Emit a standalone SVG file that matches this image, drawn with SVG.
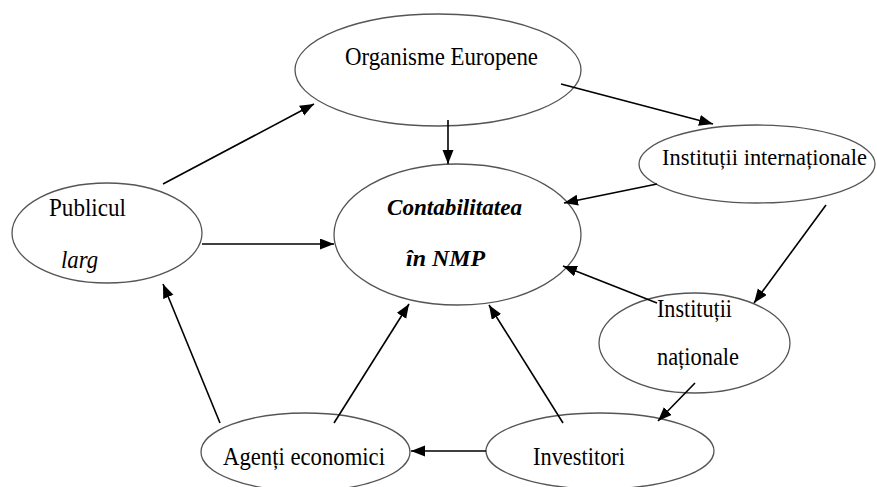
<svg xmlns="http://www.w3.org/2000/svg" width="877" height="487" viewBox="0 0 877 487">
<style>
.n{fill:#fff;stroke:#555;stroke-width:1.3}
.t{font-family:"Liberation Serif","Times New Roman",serif;font-size:25px;fill:#000}
.i{font-style:italic}
.b{font-weight:bold;font-style:italic;font-size:24px}
.c line{stroke:#000;stroke-width:1.6;marker-end:url(#ah)}
</style>
<defs>
<marker id="ah" markerUnits="userSpaceOnUse" markerWidth="15" markerHeight="12" refX="14" refY="5.5" orient="auto">
<path d="M0,0 L14,5.5 L0,11 z" fill="#000"/>
</marker>
</defs>
<rect width="877" height="487" fill="#fff"/>
<g id="organisme">
<ellipse class="n" cx="438" cy="70" rx="143" ry="56"/>
<text class="t" x="345" y="65" textLength="193" lengthAdjust="spacingAndGlyphs">Organisme Europene</text>
</g>
<g id="internationale">
<ellipse class="n" cx="757" cy="164" rx="118" ry="39"/>
<text class="t" x="662" y="165" style="font-size:22.5px" textLength="205" lengthAdjust="spacingAndGlyphs">Instituții internaționale</text>
</g>
<g id="publicul">
<ellipse class="n" cx="107" cy="233" rx="95" ry="50"/>
<text class="t" x="49" y="216" textLength="77" lengthAdjust="spacingAndGlyphs">Publicul</text>
<text class="t i" x="61" y="268" textLength="37" lengthAdjust="spacingAndGlyphs">larg</text>
</g>
<g id="contabilitatea">
<ellipse class="n" cx="457.5" cy="234.5" rx="123.5" ry="70.5"/>
<text class="t b" x="387" y="215" textLength="135" lengthAdjust="spacingAndGlyphs">Contabilitatea</text>
<text class="t b" x="406" y="266" textLength="79" lengthAdjust="spacingAndGlyphs">în NMP</text>
</g>
<g id="nationale">
<ellipse class="n" cx="694.5" cy="343" rx="95.5" ry="50"/>
<text class="t" x="657" y="317" textLength="75" lengthAdjust="spacingAndGlyphs">Instituții</text>
<text class="t" x="657" y="365" textLength="82" lengthAdjust="spacingAndGlyphs">naționale</text>
</g>
<g id="agenti">
<ellipse class="n" cx="305.5" cy="452" rx="104.5" ry="39"/>
<text class="t" x="223" y="465" textLength="162" lengthAdjust="spacingAndGlyphs">Agenți economici</text>
</g>
<g id="investitori">
<ellipse class="n" cx="600" cy="451" rx="114" ry="38"/>
<text class="t" x="533" y="465" textLength="92" lengthAdjust="spacingAndGlyphs">Investitori</text>
</g>
<g id="connectors" class="c">
<line x1="163" y1="184" x2="314" y2="104"/>
<line x1="448" y1="120" x2="448" y2="164"/>
<line x1="561" y1="84" x2="713" y2="124"/>
<line x1="657" y1="184" x2="564" y2="203"/>
<line x1="826" y1="205" x2="754" y2="303"/>
<line x1="657" y1="303" x2="563" y2="266"/>
<line x1="695" y1="383" x2="658" y2="421"/>
<line x1="202" y1="244" x2="334" y2="244"/>
<line x1="220" y1="423" x2="163" y2="284"/>
<line x1="334" y1="423" x2="409" y2="304"/>
<line x1="563" y1="423" x2="489" y2="305"/>
<line x1="486" y1="451" x2="411" y2="451"/>
</g>
</svg>
